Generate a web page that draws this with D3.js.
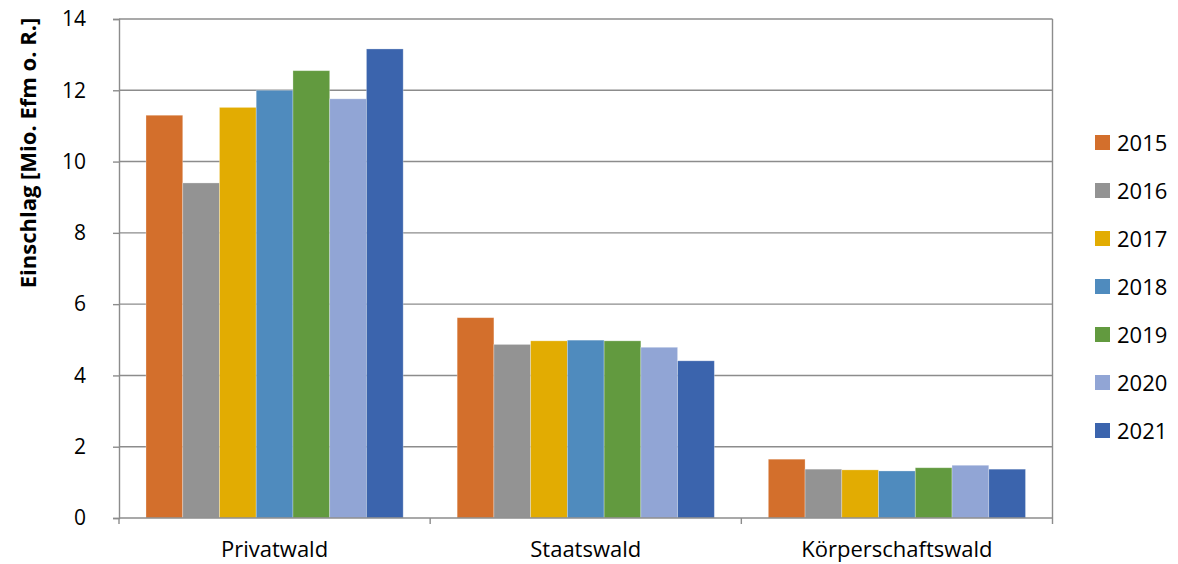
<!DOCTYPE html>
<html>
<head>
<meta charset="utf-8">
<script src="https://cdn.jsdelivr.net/npm/d3@7"></script>
<style>
  html, body { margin: 0; padding: 0; background: #fff; }
  svg { display: block; font-family: "Open Sans", "Liberation Sans", sans-serif; }
</style>
</head>
<body>
<svg id="chart" width="1178" height="564"></svg>
<script>
// Holzeinschlag nach Waldbesitzart, 2015–2021 (Mio. Efm o. R.)
const categories = ["Privatwald", "Staatswald", "Körperschaftswald"];
const years = ["2015", "2016", "2017", "2018", "2019", "2020", "2021"];
const privatwald = [11.30, 9.40, 11.52, 12.00, 12.55, 11.76, 13.16];
const staatswald = [5.62, 4.87, 4.97, 4.99, 4.97, 4.79, 4.41];
const koerperschaftswald = [1.65, 1.37, 1.35, 1.32, 1.41, 1.48, 1.37];
const yTicks = [0, 2, 4, 6, 8, 10, 12, 14];
const yTitle = "Einschlag [Mio. Efm o. R.]";
const colors = ["#D36F2C", "#939393", "#E2AC02", "#4F8BBE", "#629A3F", "#91A5D5", "#3B64AD"];

const seriesByCategory = [privatwald, staatswald, koerperschaftswald];

const svg = d3.select("#chart");
const plot = { left: 119, right: 1052.5, top: 19, bottom: 518 };
const axisColor = "#8c8c8c";

const x0 = d3.scaleBand()
  .domain(categories)
  .range([plot.left, plot.right])
  .paddingInner(0.1735)
  .paddingOuter(0.1735 / 2);

const x1 = d3.scaleBand()
  .domain(years)
  .range([0, x0.bandwidth()])
  .padding(0);

const y = d3.scaleLinear()
  .domain([0, 14])
  .range([plot.bottom, plot.top]);

// horizontal gridlines
svg.append("g")
  .selectAll("line")
  .data(yTicks.filter(d => d > 0))
  .join("line")
  .attr("x1", plot.left)
  .attr("x2", plot.right)
  .attr("y1", d => y(d))
  .attr("y2", d => y(d))
  .attr("stroke", axisColor)
  .attr("stroke-width", 1.4);

// right border of the plot area
svg.append("line")
  .attr("x1", plot.right).attr("x2", plot.right)
  .attr("y1", plot.top).attr("y2", plot.bottom)
  .attr("stroke", axisColor).attr("stroke-width", 1.4);

// bars
const groups = svg.append("g")
  .selectAll("g")
  .data(categories.map((c, i) => ({ cat: c, values: seriesByCategory[i] })))
  .join("g")
  .attr("transform", d => `translate(${x0(d.cat)},0)`);

groups.selectAll("rect")
  .data(d => d.values.map((v, i) => ({ year: years[i], value: v, color: colors[i] })))
  .join("rect")
  .attr("x", d => x1(d.year))
  .attr("width", x1.bandwidth())
  .attr("y", d => y(d.value))
  .attr("height", d => y(0) - y(d.value))
  .attr("fill", d => d.color)
  .attr("stroke", "rgba(255,255,255,0.35)")
  .attr("stroke-width", 0.8);

// y axis
const yAxis = d3.axisLeft(y)
  .tickValues(yTicks)
  .tickSize(6)
  .tickPadding(27)
  .tickFormat(d3.format("d"));

const gy = svg.append("g")
  .attr("transform", `translate(${plot.left},0)`)
  .call(yAxis);
gy.select(".domain").attr("stroke", axisColor).attr("stroke-width", 1.4);
gy.selectAll(".tick line").attr("stroke", axisColor).attr("stroke-width", 1.4);
gy.selectAll(".tick text")
  .attr("fill", "#000")
  .style("font-size", "21px")
  .style("font-family", "'Open Sans', sans-serif");

// x axis: ticks at category boundaries
const xBoundaries = [plot.left].concat(categories.map(c => x0(c) + x0.bandwidth() + x0.step() * x0.paddingOuter()));
const gx = svg.append("g");
gx.append("line")
  .attr("x1", plot.left).attr("x2", plot.right)
  .attr("y1", plot.bottom).attr("y2", plot.bottom)
  .attr("stroke", axisColor).attr("stroke-width", 1.4);
gx.selectAll("line.tk")
  .data(xBoundaries)
  .join("line")
  .attr("class", "tk")
  .attr("x1", d => d).attr("x2", d => d)
  .attr("y1", plot.bottom).attr("y2", plot.bottom + 6)
  .attr("stroke", axisColor).attr("stroke-width", 1.4);
gx.selectAll("text")
  .data(categories)
  .join("text")
  .attr("x", d => x0(d) + x0.bandwidth() / 2)
  .attr("y", 557)
  .attr("text-anchor", "middle")
  .attr("fill", "#000")
  .style("font-size", "22px")
  .text(d => d);

// y axis title
svg.append("text")
  .attr("transform", "translate(36,153) rotate(-90)")
  .attr("text-anchor", "middle")
  .attr("fill", "#000")
  .style("font-size", "22px")
  .style("font-weight", "bold")
  .text(yTitle);

// legend
const legend = svg.append("g")
  .selectAll("g")
  .data(years)
  .join("g")
  .attr("transform", (d, i) => `translate(1095,${135 + i * 48})`);
legend.append("rect")
  .attr("width", 15)
  .attr("height", 15)
  .attr("fill", (d, i) => colors[i]);
legend.append("text")
  .attr("x", 22)
  .attr("y", 15.5)
  .attr("fill", "#000")
  .style("font-size", "22px")
  .text(d => d);
</script>
</body>
</html>
